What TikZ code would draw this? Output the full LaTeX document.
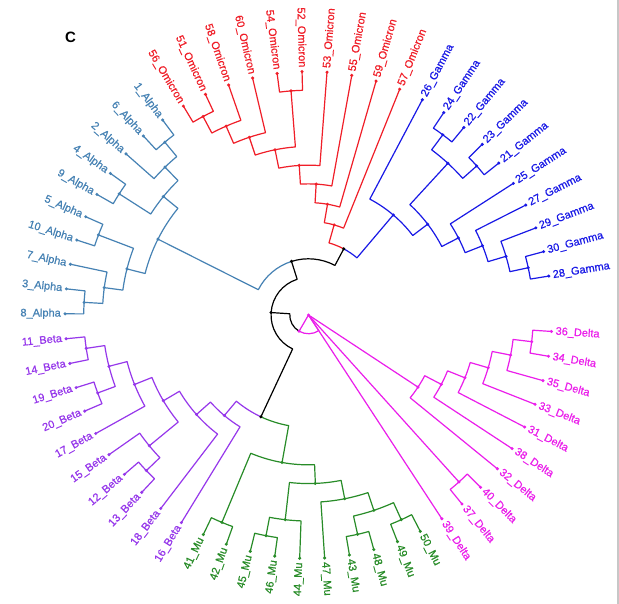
\documentclass[tikz,border=0pt]{standalone}
\usepackage{fontspec}
\setmainfont{Liberation Sans}
\newfontfamily\labfont[FakeBold=0.6]{Liberation Sans}
\definecolor{calpha}{RGB}{70,130,180}
\definecolor{comi}{RGB}{240,30,40}
\definecolor{cgam}{RGB}{25,25,230}
\definecolor{cbeta}{RGB}{150,55,235}
\definecolor{cmu}{RGB}{40,140,40}
\definecolor{cdel}{RGB}{235,30,235}
\newcommand\Ang[1]{\csname ang@#1\endcsname}
\newcommand\Rad[1]{\csname rad@#1\endcsname}
\newcommand\setpt[3]{%
  \expandafter\xdef\csname ang@#1\endcsname{#2}%
  \expandafter\xdef\csname rad@#1\endcsname{#3}%
  \coordinate (#1) at (#2:#3);}
\newcommand\leafnode[4]{%
  \pgfmathsetmacro\la{9.2+5.88*#2}%
  \setpt{#1}{\la}{243.5}%
  \ifdim\la pt>90pt \ifdim\la pt<270pt \def\lside{1}\else\def\lside{0}\fi\else\def\lside{0}\fi
  \ifnum\lside=1
    \node[lab,text=#4,anchor=east,rotate=\la-180] (#1t) at (\la:247.5) {#3};%
  \else
    \node[lab,text=#4,anchor=west,rotate=\la] (#1t) at (\la:247.5) {#3};%
  \fi
  \fill[#4] (#1) circle[radius=1.7pt];}
\newcommand\inode[4]{%
  \pgfmathsetmacro\ia{(\Ang{#2}+\Ang{#3})/2}%
  \pgfmathsetmacro\ir{243.5-18.73*#4}%
  \setpt{#1}{\ia}{\ir}}
\newcommand\edge[3]{%
  \draw[br,#3] (#1) arc[start angle=\Ang{#1}, end angle=\Ang{#2}, radius=\Rad{#1}pt] -- (#2);}
\newcommand\epair[4]{\edge{#1}{#2}{#4}\edge{#1}{#3}{#4}}
\newcommand\dotat[2]{\fill[#2] (#1) circle[radius=1.7pt];}
\begin{document}
\begin{tikzpicture}[x=1pt,y=1pt,
  br/.style={line width=1.2pt,line join=round},
  lab/.style={font=\labfont\fontsize{11}{13}\selectfont,inner sep=0pt}]
\useasboundingbox (0,0) rectangle (619,604);
\fill[white] (0,0) rectangle (619,604);
\fill[black!22] (616.5,0) rectangle (619,604);
\node[font=\bfseries\fontsize{15}{17}\selectfont,inner sep=0pt] (lblC) at (70.5,566.5) {C};
\begin{scope}[shift={(308.5,289)}]
% leaves
\leafnode{L28}{0}{28\_Gamma}{cgam}
\leafnode{L30}{1}{30\_Gamma}{cgam}
\leafnode{L29}{2}{29\_Gamma}{cgam}
\leafnode{L27}{3}{27\_Gamma}{cgam}
\leafnode{L25}{4}{25\_Gamma}{cgam}
\leafnode{L21}{5}{21\_Gamma}{cgam}
\leafnode{L23}{6}{23\_Gamma}{cgam}
\leafnode{L22}{7}{22\_Gamma}{cgam}
\leafnode{L24}{8}{24\_Gamma}{cgam}
\leafnode{L26}{9}{26\_Gamma}{cgam}
\leafnode{L57}{10}{57\_Omicron}{comi}
\leafnode{L59}{11}{59\_Omicron}{comi}
\leafnode{L55}{12}{55\_Omicron}{comi}
\leafnode{L53}{13}{53\_Omicron}{comi}
\leafnode{L52}{14}{52\_Omicron}{comi}
\leafnode{L54}{15}{54\_Omicron}{comi}
\leafnode{L60}{16}{60\_Omicron}{comi}
\leafnode{L58}{17}{58\_Omicron}{comi}
\leafnode{L51}{18}{51\_Omicron}{comi}
\leafnode{L56}{19}{56\_Omicron}{comi}
\leafnode{L1}{20}{1\_Alpha}{calpha}
\leafnode{L6}{21}{6\_Alpha}{calpha}
\leafnode{L2}{22}{2\_Alpha}{calpha}
\leafnode{L4}{23}{4\_Alpha}{calpha}
\leafnode{L9}{24}{9\_Alpha}{calpha}
\leafnode{L5}{25}{5\_Alpha}{calpha}
\leafnode{L10}{26}{10\_Alpha}{calpha}
\leafnode{L7}{27}{7\_Alpha}{calpha}
\leafnode{L3}{28}{3\_Alpha}{calpha}
\leafnode{L8}{29}{8\_Alpha}{calpha}
\leafnode{L11}{30}{11\_Beta}{cbeta}
\leafnode{L14}{31}{14\_Beta}{cbeta}
\leafnode{L19}{32}{19\_Beta}{cbeta}
\leafnode{L20}{33}{20\_Beta}{cbeta}
\leafnode{L17}{34}{17\_Beta}{cbeta}
\leafnode{L15}{35}{15\_Beta}{cbeta}
\leafnode{L12}{36}{12\_Beta}{cbeta}
\leafnode{L13}{37}{13\_Beta}{cbeta}
\leafnode{L18}{38}{18\_Beta}{cbeta}
\leafnode{L16}{39}{16\_Beta}{cbeta}
\leafnode{L41}{40}{41\_Mu}{cmu}
\leafnode{L42}{41}{42\_Mu}{cmu}
\leafnode{L45}{42}{45\_Mu}{cmu}
\leafnode{L46}{43}{46\_Mu}{cmu}
\leafnode{L44}{44}{44\_Mu}{cmu}
\leafnode{L47}{45}{47\_Mu}{cmu}
\leafnode{L43}{46}{43\_Mu}{cmu}
\leafnode{L48}{47}{48\_Mu}{cmu}
\leafnode{L49}{48}{49\_Mu}{cmu}
\leafnode{L50}{49}{50\_Mu}{cmu}
\leafnode{L39}{50}{39\_Delta}{cdel}
\leafnode{L37}{51}{37\_Delta}{cdel}
\leafnode{L40}{52}{40\_Delta}{cdel}
\leafnode{L32}{53}{32\_Delta}{cdel}
\leafnode{L38}{54}{38\_Delta}{cdel}
\leafnode{L31}{55}{31\_Delta}{cdel}
\leafnode{L33}{56}{33\_Delta}{cdel}
\leafnode{L35}{57}{35\_Delta}{cdel}
\leafnode{L34}{58}{34\_Delta}{cdel}
\leafnode{L36}{59}{36\_Delta}{cdel}
% internal nodes
\inode{g1}{L24}{L22}{1}
\inode{g2}{L23}{L21}{1}
\inode{g3}{g1}{g2}{2}
\inode{g4}{L30}{L28}{1}
\inode{g5}{L29}{g4}{2}
\inode{g6}{L27}{g5}{3}
\inode{g7}{L25}{g6}{4}
\inode{g8}{g3}{g7}{5}
\inode{G}{L26}{g8}{6}
\inode{o1}{L56}{L51}{1}
\inode{o2}{o1}{L58}{2}
\inode{o3}{o2}{L60}{3}
\inode{o4}{L54}{L52}{1}
\inode{o5}{o3}{o4}{4}
\inode{o6}{o5}{L53}{5}
\inode{o7}{o6}{L55}{6}
\inode{o8}{o7}{L59}{7}
\inode{O}{o8}{L57}{8}
\inode{OG}{O}{G}{9}
\inode{a1}{L1}{L6}{1}
\inode{a2}{a1}{L2}{2}
\inode{a3}{L4}{L9}{1}
\inode{a4}{a2}{a3}{3}
\inode{a5}{L5}{L10}{1}
\inode{a6}{L3}{L8}{1}
\inode{a7}{L7}{a6}{2}
\inode{a8}{a5}{a7}{3}
\inode{Al}{a4}{a8}{4}
\inode{A}{Al}{OG}{10}
\inode{b1}{L11}{L14}{1}
\inode{b2}{L19}{L20}{1}
\inode{b3}{b1}{b2}{2}
\inode{b4}{b3}{L17}{3}
\inode{b5}{L12}{L13}{1}
\inode{b6}{L15}{b5}{2}
\inode{b7}{b4}{b6}{4}
\inode{b8}{b7}{L18}{5}
\inode{Be}{b8}{L16}{6}
\inode{m1}{L41}{L42}{1}
\inode{m2}{L45}{L46}{1}
\inode{m3}{m2}{L44}{2}
\inode{m4}{L43}{L48}{1}
\inode{m5}{L49}{L50}{1}
\inode{m6}{m4}{m5}{2}
\inode{m7}{L47}{m6}{3}
\inode{m8}{m3}{m7}{4}
\inode{Mu}{m1}{m8}{5}
\inode{BM}{Be}{Mu}{7}
\inode{B}{A}{BM}{11}
\inode{d1}{L36}{L34}{1}
\inode{d2}{L35}{d1}{2}
\inode{d3}{L33}{d2}{3}
\inode{d4}{L31}{d3}{4}
\inode{d5}{L38}{d4}{5}
\inode{S}{L32}{d5}{6}
\inode{d6}{L37}{L40}{1}
\setpt{D}{303.4}{0}
\inode{R}{B}{D}{12}
% edges
\epair{g1}{L24}{L22}{cgam}
\epair{g2}{L23}{L21}{cgam}
\epair{g3}{g1}{g2}{cgam}
\epair{g4}{L30}{L28}{cgam}
\epair{g5}{L29}{g4}{cgam}
\epair{g6}{L27}{g5}{cgam}
\epair{g7}{L25}{g6}{cgam}
\epair{g8}{g3}{g7}{cgam}
\epair{G}{L26}{g8}{cgam}
\epair{o1}{L56}{L51}{comi}
\epair{o2}{o1}{L58}{comi}
\epair{o3}{o2}{L60}{comi}
\epair{o4}{L54}{L52}{comi}
\epair{o5}{o3}{o4}{comi}
\epair{o6}{o5}{L53}{comi}
\epair{o7}{o6}{L55}{comi}
\epair{o8}{o7}{L59}{comi}
\epair{O}{o8}{L57}{comi}
\edge{OG}{O}{comi}
\edge{OG}{G}{cgam}
\epair{a1}{L1}{L6}{calpha}
\epair{a2}{a1}{L2}{calpha}
\epair{a3}{L4}{L9}{calpha}
\epair{a4}{a2}{a3}{calpha}
\epair{a5}{L5}{L10}{calpha}
\epair{a6}{L3}{L8}{calpha}
\epair{a7}{L7}{a6}{calpha}
\epair{a8}{a5}{a7}{calpha}
\epair{Al}{a4}{a8}{calpha}
\edge{A}{Al}{calpha}
\edge{A}{OG}{black}
\epair{b1}{L11}{L14}{cbeta}
\epair{b2}{L19}{L20}{cbeta}
\epair{b3}{b1}{b2}{cbeta}
\epair{b4}{b3}{L17}{cbeta}
\epair{b5}{L12}{L13}{cbeta}
\epair{b6}{L15}{b5}{cbeta}
\epair{b7}{b4}{b6}{cbeta}
\epair{b8}{b7}{L18}{cbeta}
\epair{Be}{b8}{L16}{cbeta}
\epair{m1}{L41}{L42}{cmu}
\epair{m2}{L45}{L46}{cmu}
\epair{m3}{m2}{L44}{cmu}
\epair{m4}{L43}{L48}{cmu}
\epair{m5}{L49}{L50}{cmu}
\epair{m6}{m4}{m5}{cmu}
\epair{m7}{L47}{m6}{cmu}
\epair{m8}{m3}{m7}{cmu}
\epair{Mu}{m1}{m8}{cmu}
\edge{BM}{Be}{cbeta}
\edge{BM}{Mu}{cmu}
\epair{B}{A}{BM}{black}
\epair{d1}{L36}{L34}{cdel}
\epair{d2}{L35}{d1}{cdel}
\epair{d3}{L33}{d2}{cdel}
\epair{d4}{L31}{d3}{cdel}
\epair{d5}{L38}{d4}{cdel}
\epair{S}{L32}{d5}{cdel}
\epair{d6}{L37}{L40}{cdel}
\draw[br,cdel] (D) -- (L39);
\draw[br,cdel] (D) -- (d6);
\draw[br,cdel] (D) -- (S);
\edge{R}{B}{black}
\edge{R}{D}{cdel}
\draw[br,cdel] (R) -- (D);
% node dots
\foreach \n in {g1,g2,g3,g4,g5,g6,g7,g8,G}{\dotat{\n}{cgam}}
\foreach \n in {o1,o2,o3,o4,o5,o6,o7,o8,O}{\dotat{\n}{comi}}
\foreach \n in {a1,a2,a3,a4,a5,a6,a7,a8,Al}{\dotat{\n}{calpha}}
\foreach \n in {b1,b2,b3,b4,b5,b6,b7,b8,Be}{\dotat{\n}{cbeta}}
\foreach \n in {m1,m2,m3,m4,m5,m6,m7,m8,Mu}{\dotat{\n}{cmu}}
\foreach \n in {d1,d2,d3,d4,d5,S,d6,D,R}{\dotat{\n}{cdel}}
\foreach \n in {OG,A,B,BM}{\dotat{\n}{black}}
\end{scope}
\end{tikzpicture}
\end{document}
